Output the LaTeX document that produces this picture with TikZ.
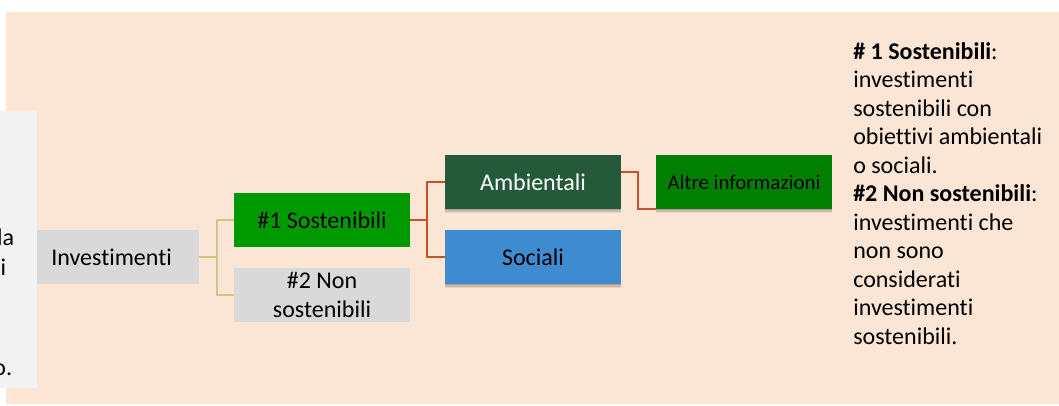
\documentclass[tikz,border=0pt]{standalone}
\usepackage{fontspec}
\setmainfont[Ligatures=NoCommon]{Carlito}
\usepackage{tikz}
\usetikzlibrary{shadows}

\definecolor{sfondo}{HTML}{FBE6D6}
\definecolor{pannello}{HTML}{F2F2F2}
\definecolor{grigio}{HTML}{D9D9D9}
\definecolor{verdeuno}{HTML}{009900}
\definecolor{verdescuro}{HTML}{245A3A}
\definecolor{azzurro}{HTML}{3F8BCF}
\definecolor{verdedue}{HTML}{007F00}
\definecolor{ramogiallo}{HTML}{D3C387}
\definecolor{ramorosso}{HTML}{C9502C}

\tikzset{
  casella/.style={inner sep=0cm, outer sep=0cm},
  ombra/.style={drop shadow={shadow xshift=0cm, shadow yshift=-0.11cm,
                opacity=0.08, fill=black},
                drop shadow={shadow xshift=0cm, shadow yshift=-0.07cm,
                opacity=0.12, fill=black},
                drop shadow={shadow xshift=0cm, shadow yshift=-0.035cm,
                opacity=0.15, fill=black}},
  ramouno/.style={draw=ramogiallo, line width=0.045cm},
  ramodue/.style={draw=ramorosso, line width=0.045cm},
  frammento/.style={anchor=base east, inner sep=0cm, color=black}
}

\begin{document}
\begin{tikzpicture}[font=\fontsize{17.07}{20.27}\selectfont]

\useasboundingbox (0,0) rectangle (26.475,-10.125);
\fill[sfondo] (0.15,-0.3) rectangle (26.475,-10.1);
\fill[pannello] (0,-2.775) rectangle (0.925,-9.7);

% resti del testo nel pannello
\draw (0.36, -6.125) node (pa) [frammento] {la};
\draw (0.16, -6.875) node (pb) [frammento] {i};
\draw (0.31, -9.375) node (pc) [frammento] {o.};

\draw (2.95, -6.425)
  node (inv) [casella, fill=grigio] {
\begin{minipage}[c][1.35cm][c]{4.05cm}
\centering \hspace*{-0.32cm}Investimenti
\end{minipage}
};
\draw (8.05, -5.5)
  node (sos) [casella, fill=verdeuno] {
\begin{minipage}[c][1.35cm][c]{4.4cm}
\centering \#1 Sostenibili
\end{minipage}
};
\draw (8.05, -7.375)
  node (non) [casella, fill=grigio] {
\begin{minipage}[c][1.35cm][c]{4.4cm}
\centering \#2 Non\\ sostenibili
\end{minipage}
};
\draw (13.325, -4.55)
  node (amb) [casella, ombra, fill=verdescuro, text=white] {
\begin{minipage}[c][1.35cm][c]{4.4cm}
\centering Ambientali
\end{minipage}
};
\draw (13.325, -6.425)
  node (soc) [casella, ombra, fill=azzurro] {
\begin{minipage}[c][1.35cm][c]{4.4cm}
\centering Sociali
\end{minipage}
};
\draw (18.6, -4.55)
  node (alt) [casella, ombra, fill=verdedue] {
\begin{minipage}[c][1.35cm][c]{4.4cm}
\centering \fontsize{14.9}{17}\selectfont Altre informazioni
\end{minipage}
};

\draw[ramouno] (inv.east) -- ++(0.45,0) |- (sos.west);
\draw[ramouno] (inv.east) -- ++(0.45,0) |- (non.west);
\draw[ramodue] (sos.east) -- ++(0.425,0) |- (amb.west);
\draw[ramodue] (sos.east) -- ++(0.425,0) |- (soc.west);
\draw[ramodue] ([yshift=0.25cm]amb.east) -- ++(0.425,0) |- (alt.south west);

% legenda a destra
\draw (21.325, -1.05)
  node (leg) [anchor=north west, inner sep=0cm, align=left] {
\textbf{\# 1 Sostenibili}:\\
investimenti\\
sostenibili con\\
obiettivi ambientali\\
o sociali.\\
\textbf{\#2 Non sostenibili}:\\
investimenti che\\
non sono\\
considerati\\
investimenti\\
sostenibili.
};
\end{tikzpicture}
\end{document}
